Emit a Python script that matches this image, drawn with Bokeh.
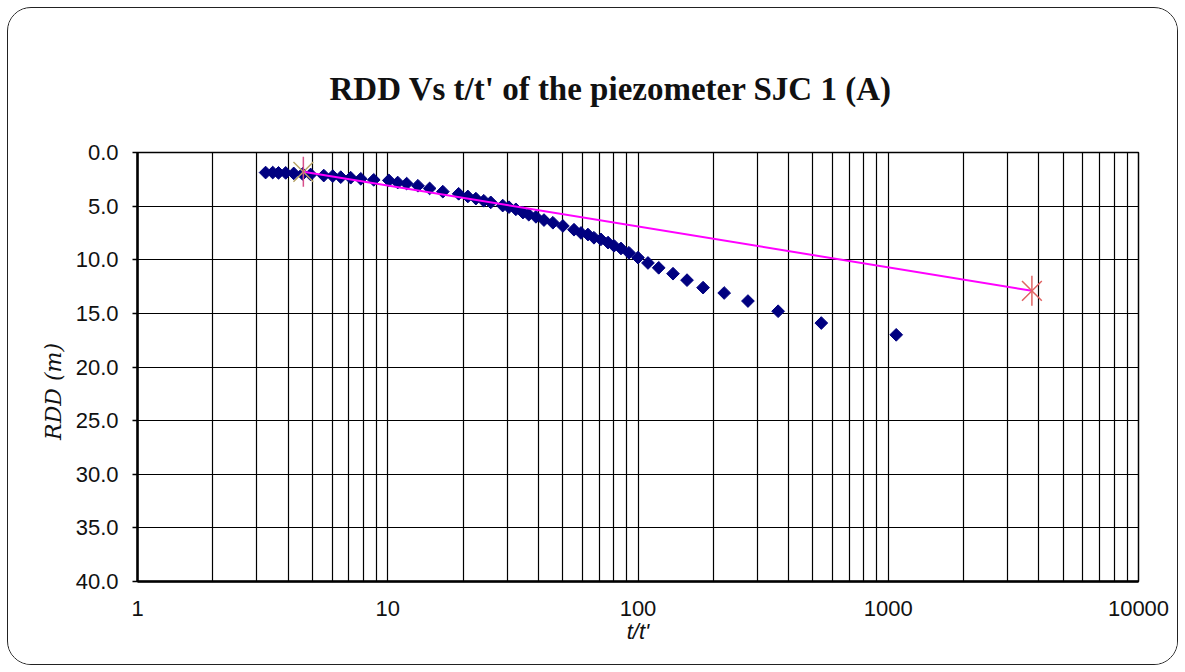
import math
from bokeh.plotting import figure
from bokeh.models import Range1d, FixedTicker, NumeralTickFormatter
from bokeh.embed import file_html
from bokeh.resources import INLINE

# ---- data ----
t_ratio = [3.25, 3.47, 3.66, 3.91, 4.21, 4.57, 4.92, 5.55, 6.03, 6.49, 7.11, 7.80,
           8.79, 10.1, 10.96, 11.9, 13.2, 14.7, 16.6, 19.2, 20.9, 22.5, 24.2, 25.8,
           28.8, 30.5, 32.5, 34.7, 36.6, 39.1, 42.1, 45.7, 50.1, 55.5, 59.2, 63.1,
           66.7, 71.1, 75.9, 80.2, 85.5, 92.0, 100.0, 109.6, 121.0, 138.0, 157.0,
           182.0, 221.0, 275.0, 363.0, 540.0, 1076.0]
rdd = [1.87, 1.87, 1.9, 1.9, 1.95, 2.0, 2.05, 2.15, 2.2, 2.3, 2.35, 2.45,
       2.55, 2.6, 2.8, 2.9, 3.1, 3.35, 3.65, 3.85, 4.1, 4.3, 4.5, 4.65,
       4.95, 5.1, 5.3, 5.6, 5.8, 6.0, 6.3, 6.55, 6.85, 7.2, 7.5, 7.65,
       7.95, 8.1, 8.4, 8.7, 8.95, 9.35, 9.8, 10.3, 10.75, 11.3, 11.9,
       12.6, 13.1, 13.85, 14.8, 15.9, 17.0]

fit_x = [4.6, 3750.0]
fit_y = [1.8, 12.9]

y_ticks = [0, 5, 10, 15, 20, 25, 30, 35, 40]
x_major = [1, 10, 100, 1000, 10000]
x_minor = [m * d for d in (1, 10, 100, 1000) for m in range(2, 10)]

title_text = "RDD Vs t/t' of the piezometer SJC 1 (A)"
y_label_text = "RDD (m)"
x_label_text = "t/t'"

p = figure(width=1171, height=658, x_axis_type="log",
           x_range=Range1d(1, 10000), y_range=Range1d(40, 0),
           output_backend="svg", toolbar_location=None,
           min_border_left=129, min_border_right=41,
           min_border_top=144, min_border_bottom=85)

p.styles = {"border": "1.5px solid #222", "border-radius": "24px",
            "box-sizing": "border-box", "overflow": "hidden",
            "margin-left": "7px", "margin-top": "7px"}

p.title.text = title_text
p.title.align = "left"
p.title.offset = 192
p.title.text_font = "Liberation Serif"
p.title.text_font_style = "bold"
p.title.text_font_size = "33px"
p.title.text_color = "#111111"
p.title.standoff = 91

p.outline_line_color = "black"
p.outline_line_width = 1.5

# axes
xa = p.xaxis[0]
xa.ticker = FixedTicker(ticks=x_major, minor_ticks=x_minor)
xa.formatter = NumeralTickFormatter(format="0")
xa.major_tick_out = 0
xa.major_tick_in = 0
xa.minor_tick_out = 0
xa.minor_tick_in = 0
xa.axis_line_width = 2.5
xa.axis_line_color = "black"
xa.major_label_text_font = "Liberation Sans"
xa.major_label_text_font_size = "22px"
xa.major_label_text_color = "#111111"
xa.major_label_standoff = 19
xa.axis_label = x_label_text
xa.axis_label_text_font = "Liberation Sans"
xa.axis_label_text_font_style = "italic"
xa.axis_label_text_font_size = "22px"
xa.axis_label_text_color = "#111111"
xa.axis_label_standoff = 0

ya = p.yaxis[0]
ya.ticker = FixedTicker(ticks=y_ticks)
ya.formatter = NumeralTickFormatter(format="0.0")
ya.major_tick_out = 5
ya.major_tick_in = 0
ya.minor_tick_out = 0
ya.minor_tick_in = 0
ya.major_tick_line_width = 1.5
ya.axis_line_width = 2.5
ya.axis_line_color = "black"
ya.major_label_text_font = "Liberation Sans"
ya.major_label_text_font_size = "22px"
ya.major_label_text_color = "#111111"
ya.major_label_standoff = 14
# trailing no-break spaces push the visible title a little below the axis centre
ya.axis_label = y_label_text + "\u00a0" * 7
ya.axis_label_text_font = "DejaVu Serif"
ya.axis_label_text_font_style = "italic"
ya.axis_label_text_font_size = "22px"
ya.axis_label_text_color = "#111111"
ya.axis_label_standoff = 7

# grids
p.xgrid.grid_line_color = "black"
p.xgrid.grid_line_width = 1.2
p.xgrid.minor_grid_line_color = "black"
p.xgrid.minor_grid_line_width = 1.2
p.ygrid.grid_line_color = "black"
p.ygrid.grid_line_width = 1.2

# data
p.scatter(t_ratio, rdd, marker="square", angle=math.pi / 4, size=9,
          fill_color="#000080", line_color="#000080")

p.line(fit_x, fit_y, line_color="#ff00ff", line_width=2)
p.scatter(fit_x[:1], fit_y[:1], marker="x", size=28,
          line_color="#b8a468", line_width=1.5)
p.scatter(fit_x[:1], fit_y[:1], marker="dash", angle=math.pi / 2, size=30,
          line_color="#d8508a", line_width=1.5)
p.scatter(fit_x[1:], fit_y[1:], marker="x", size=28,
          line_color="#e06464", line_width=1.5)
p.scatter(fit_x[1:], fit_y[1:], marker="dash", angle=math.pi / 2, size=30,
          line_color="#e06464", line_width=1.5)

open("out.html", "w").write(file_html(p, INLINE))
